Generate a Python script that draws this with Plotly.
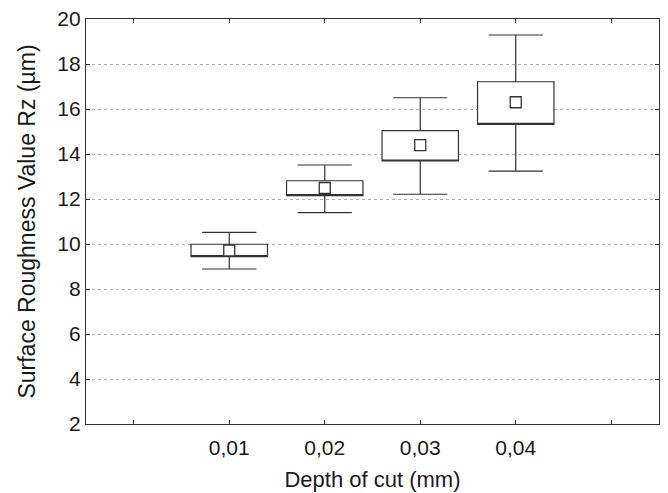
import plotly.graph_objects as go

# Data
categories = ['0,01', '0,02', '0,03', '0,04']
mean_vals = [9.71, 12.49, 14.39, 16.30]
box_low = [9.44, 12.15, 13.69, 15.32]
box_high = [9.99, 12.81, 15.04, 17.21]
whisk_low = [8.89, 11.39, 12.21, 13.24]
whisk_high = [10.52, 13.51, 16.50, 19.29]
y_ticks = [2, 4, 6, 8, 10, 12, 14, 16, 18, 20]

xpos = list(range(1, len(categories) + 1))
line_col = '#333333'
fam = 'Liberation Sans, Arial, sans-serif'
font = dict(family=fam, size=20, color='#1a1a1a')
tfont = dict(family=fam, size=21, color='#1a1a1a')
xtitlefont = dict(family=fam, size=22, color='#1a1a1a')
ytitlefont = dict(family=fam, size=23, color='#1a1a1a')

fig = go.Figure()
fig.add_trace(go.Box(
    x=xpos, q1=box_low, median=box_low, q3=box_high,
    lowerfence=whisk_low, upperfence=whisk_high,
    width=0.8, whiskerwidth=0.71, boxpoints=False,
    fillcolor='white', line=dict(color=line_col, width=1.2),
    hoverinfo='skip', showlegend=False,
))
fig.add_trace(go.Scatter(
    x=xpos, y=mean_vals, mode='markers',
    marker=dict(symbol='square', size=11, color='white',
                line=dict(color=line_col, width=1.3)),
    showlegend=False,
))

tick_vals_x = [0] + xpos + [len(categories) + 1]
tick_text_x = [''] + categories + ['']

fig.update_layout(
    width=668, height=493,
    margin=dict(l=78, r=17, t=11, b=77),
    paper_bgcolor='white', plot_bgcolor='white',
    font=font,
    xaxis=dict(
        range=[-0.5, len(categories) + 1.5],
        tickvals=tick_vals_x, ticktext=tick_text_x,
        ticks='inside', ticklen=4, tickcolor=line_col,
        showline=True, linecolor=line_col, linewidth=1.3, mirror='ticks',
        showgrid=False, zeroline=False, automargin=False,
        ticklabelstandoff=5, ticklabeloverflow='allow',
        title=dict(text='Depth of cut (mm)', standoff=13, font=xtitlefont),
        tickfont=tfont,
    ),
    yaxis=dict(
        range=[2, 20], tickvals=y_ticks,
        ticks='inside', ticklen=4, tickcolor=line_col,
        showline=True, linecolor=line_col, linewidth=1.3, mirror='ticks',
        showgrid=True, gridcolor='#b0b0b0', griddash='dot', gridwidth=1,
        zeroline=False, automargin=False, ticklabeloverflow='allow',
        title=dict(text='Surface Roughness Value Rz (µm)', standoff=15, font=ytitlefont),
        tickfont=tfont,
    ),
)

fig.write_html('out.html')
